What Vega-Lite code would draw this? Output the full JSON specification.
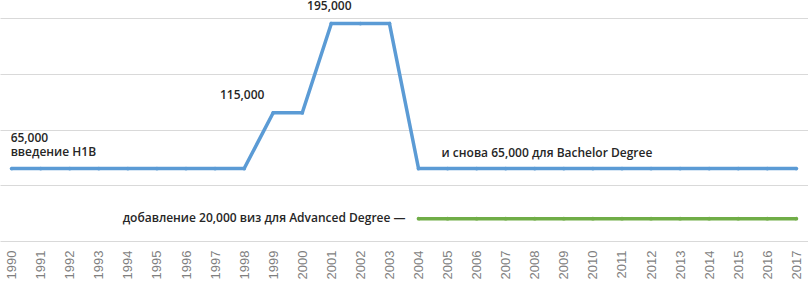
{
  "$schema": "https://vega.github.io/schema/vega-lite/v6.json",
  "width": 808,
  "height": 223,
  "autosize": {"type": "none"},
  "padding": {"top": 18, "left": 0, "right": 0, "bottom": 45},
  "background": "white",
  "config": {"view": {"stroke": null}, "font": "Open Sans"},
  "datasets": {
    "lines": [
      {"year": "1990", "series": "H1B", "value": 65000},
      {"year": "1991", "series": "H1B", "value": 65000},
      {"year": "1992", "series": "H1B", "value": 65000},
      {"year": "1993", "series": "H1B", "value": 65000},
      {"year": "1994", "series": "H1B", "value": 65000},
      {"year": "1995", "series": "H1B", "value": 65000},
      {"year": "1996", "series": "H1B", "value": 65000},
      {"year": "1997", "series": "H1B", "value": 65000},
      {"year": "1998", "series": "H1B", "value": 65000},
      {"year": "1999", "series": "H1B", "value": 115000},
      {"year": "2000", "series": "H1B", "value": 115000},
      {"year": "2001", "series": "H1B", "value": 195000},
      {"year": "2002", "series": "H1B", "value": 195000},
      {"year": "2003", "series": "H1B", "value": 195000},
      {"year": "2004", "series": "H1B", "value": 65000},
      {"year": "2005", "series": "H1B", "value": 65000},
      {"year": "2006", "series": "H1B", "value": 65000},
      {"year": "2007", "series": "H1B", "value": 65000},
      {"year": "2008", "series": "H1B", "value": 65000},
      {"year": "2009", "series": "H1B", "value": 65000},
      {"year": "2010", "series": "H1B", "value": 65000},
      {"year": "2011", "series": "H1B", "value": 65000},
      {"year": "2012", "series": "H1B", "value": 65000},
      {"year": "2013", "series": "H1B", "value": 65000},
      {"year": "2014", "series": "H1B", "value": 65000},
      {"year": "2015", "series": "H1B", "value": 65000},
      {"year": "2016", "series": "H1B", "value": 65000},
      {"year": "2017", "series": "H1B", "value": 65000},
      {"year": "2004", "series": "Advanced", "value": 20000},
      {"year": "2005", "series": "Advanced", "value": 20000},
      {"year": "2006", "series": "Advanced", "value": 20000},
      {"year": "2007", "series": "Advanced", "value": 20000},
      {"year": "2008", "series": "Advanced", "value": 20000},
      {"year": "2009", "series": "Advanced", "value": 20000},
      {"year": "2010", "series": "Advanced", "value": 20000},
      {"year": "2011", "series": "Advanced", "value": 20000},
      {"year": "2012", "series": "Advanced", "value": 20000},
      {"year": "2013", "series": "Advanced", "value": 20000},
      {"year": "2014", "series": "Advanced", "value": 20000},
      {"year": "2015", "series": "Advanced", "value": 20000},
      {"year": "2016", "series": "Advanced", "value": 20000},
      {"year": "2017", "series": "Advanced", "value": 20000}
    ]
  },
  "encoding": {
    "x": {
      "field": "year", "type": "ordinal",
      "scale": {"type": "point", "padding": 0.4},
      "axis": {"title": null, "labelAngle": -90, "labelColor": "#7f7f7f", "labelFontSize": 13, "labelFont": "Liberation Sans", "ticks": false, "domain": false, "labelPadding": 9, "grid": false}
    },
    "y": {
      "field": "value", "type": "quantitative",
      "scale": {"domain": [0, 200000], "nice": false},
      "axis": {"title": null, "labels": false, "ticks": false, "domain": false, "grid": true, "gridColor": "#d9d9d9", "values": [0, 50000, 100000, 150000, 200000]}
    }
  },
  "layer": [
    {
      "data": {"name": "lines"},
      "mark": {"type": "line", "strokeWidth": 3.5},
      "encoding": {
        "color": {"field": "series", "type": "nominal", "scale": {"domain": ["H1B", "Advanced"], "range": ["#5b9bd5", "#70ad47"]}, "legend": null}
      }
    },
    {
      "data": {"name": "lines"},
      "mark": {"type": "point", "filled": true, "size": 14, "opacity": 1},
      "encoding": {
        "color": {"field": "series", "type": "nominal", "scale": {"domain": ["H1B", "Advanced"], "range": ["#5b9bd5", "#70ad47"]}, "legend": null}
      }
    },
    {
      "data": {"values": [
        {"year": "1990", "value": 65000, "label": "65,000"}
      ]},
      "mark": {"type": "text", "align": "left", "dx": -1, "dy": -27, "baseline": "alphabetic", "fontSize": 12, "fontWeight": 600, "color": "#262626"},
      "encoding": {"text": {"field": "label"}}
    },
    {
      "data": {"values": [
        {"year": "1990", "value": 65000, "label": "введение H1B"}
      ]},
      "mark": {"type": "text", "align": "left", "dx": -1, "dy": -13, "baseline": "alphabetic", "fontSize": 12, "fontWeight": 600, "color": "#262626"},
      "encoding": {"text": {"field": "label"}}
    },
    {
      "data": {"values": [
        {"year": "1998", "value": 115000, "label": "115,000"},
        {"year": "2001", "value": 195000, "label": "195,000"}
      ]},
      "mark": {"type": "text", "align": "center", "dx": -2, "dy": -14, "baseline": "alphabetic", "fontSize": 12, "fontWeight": 600, "color": "#262626"},
      "encoding": {"text": {"field": "label"}}
    },
    {
      "data": {"values": [
        {"year": "2005", "value": 65000, "label": "и снова 65,000 для Bachelor Degree"}
      ]},
      "mark": {"type": "text", "align": "left", "dx": -6, "dy": -12, "baseline": "alphabetic", "fontSize": 12, "fontWeight": 600, "color": "#262626"},
      "encoding": {"text": {"field": "label"}}
    },
    {
      "data": {"values": [
        {"year": "2004", "value": 20000, "label": "добавление 20,000 виз для Advanced Degree —"}
      ]},
      "mark": {"type": "text", "align": "right", "dx": -13, "dy": 3, "baseline": "alphabetic", "fontSize": 12, "fontWeight": 600, "color": "#262626"},
      "encoding": {"text": {"field": "label"}}
    }
  ]
}
